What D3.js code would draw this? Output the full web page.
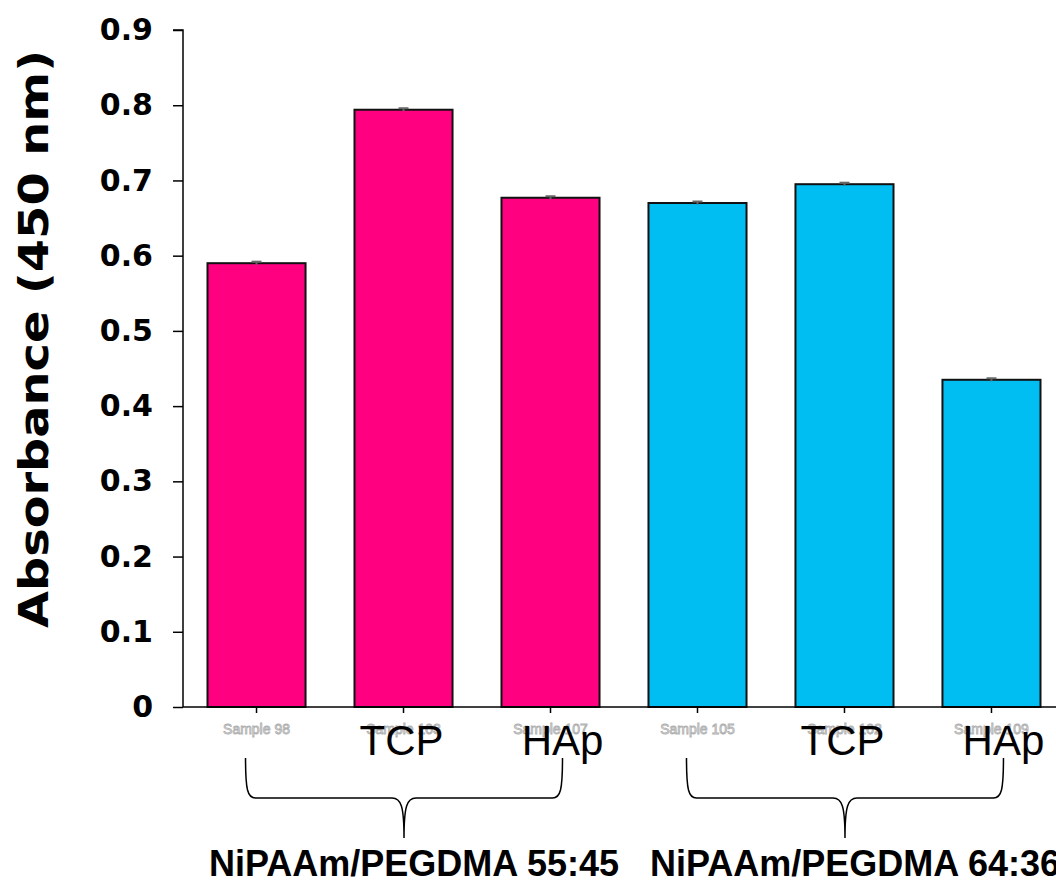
<!DOCTYPE html>
<html>
<head>
<meta charset="utf-8">
<script src="https://cdn.jsdelivr.net/npm/d3@7"></script>
<style>
  body { margin: 0; background: #fff; }
  svg { display: block; }
</style>
</head>
<body>
<div id="chart"></div>
<script>
// datos
const muestras = ["Sample 98", "Sample 103", "Sample 107", "Sample 105", "Sample 102", "Sample 109"];
const sustratos = ["", "TCP", "HAp", "", "TCP", "HAp"];
const absorbancia = [0.590, 0.794, 0.677, 0.670, 0.695, 0.435];
const errores = [0.002, 0.002, 0.002, 0.002, 0.002, 0.002];
const grupos = ["NiPAAm/PEGDMA 55:45", "NiPAAm/PEGDMA 64:36"];
const grupoDeBarra = [0, 0, 0, 1, 1, 1];
const colores = ["#ff0080", "#00bdf2"];
const yTicks = [0, 0.1, 0.2, 0.3, 0.4, 0.5, 0.6, 0.7, 0.8, 0.9];

const W = 1056, H = 884;
const x0 = 183, paso = 147, yCero = 707, yTope = 30;

const svg = d3.select("#chart").append("svg")
    .attr("width", W).attr("height", H);

// escalas
const x = d3.scaleBand()
    .domain(d3.range(muestras.length))
    .range([x0, x0 + paso * muestras.length])
    .paddingInner(0.333)
    .paddingOuter(0.1667);

const y = d3.scaleLinear().domain([0, 0.9]).range([yCero, yTope]);

// barras
svg.append("g").selectAll("rect")
    .data(absorbancia)
    .join("rect")
    .attr("x", (d, i) => x(i))
    .attr("y", d => y(d))
    .attr("width", x.bandwidth())
    .attr("height", d => y(0) - y(d))
    .attr("fill", (d, i) => colores[grupoDeBarra[i]])
    .attr("stroke", "#111")
    .attr("stroke-width", 2);

// barras de error (muy pequeñas)
const eb = svg.append("g").attr("stroke", "#666").attr("stroke-width", 2);
absorbancia.forEach((v, i) => {
  const cx = x(i) + x.bandwidth() / 2;
  eb.append("line").attr("x1", cx).attr("x2", cx).attr("y1", y(v + errores[i])).attr("y2", y(v - errores[i]));
  eb.append("line").attr("x1", cx - 5).attr("x2", cx + 5).attr("y1", y(v + errores[i])).attr("y2", y(v + errores[i]));
});

// eje Y
const yAxis = svg.append("g")
    .attr("transform", `translate(${x0},0)`)
    .call(d3.axisLeft(y).tickValues(yTicks).tickSize(10).tickPadding(20)
      .tickFormat(d => d === 0 ? "0" : d3.format(".1f")(d)));
yAxis.select(".domain").attr("stroke", "#000").attr("stroke-width", 1.5).attr("d", `M-10,${yTope}H0V${yCero}`);
yAxis.selectAll(".tick line").attr("stroke", "#000").attr("stroke-width", 1.5);
yAxis.selectAll(".tick text")
    .attr("fill", "#000")
    .style("font-family", "'DejaVu Sans', sans-serif")
    .style("font-weight", "bold")
    .style("font-size", "30px");

// eje X
const xAxis = svg.append("g")
    .attr("transform", `translate(0,${yCero})`)
    .call(d3.axisBottom(x).tickSize(6).tickFormat(""));
xAxis.select(".domain").attr("stroke", "#000").attr("stroke-width", 1.5).attr("d", `M${x0},0H${W + 20}`);
xAxis.selectAll(".tick line").attr("stroke", "#000").attr("stroke-width", 1.5);

// etiquetas de muestra (blancas con contorno gris)
svg.append("g").selectAll("text")
    .data(muestras)
    .join("text")
    .attr("x", (d, i) => x(i) + x.bandwidth() / 2)
    .attr("y", 734)
    .attr("text-anchor", "middle")
    .attr("fill", "#fff")
    .attr("stroke", "#b0b0b0")
    .attr("stroke-width", 0.9)
    .style("font-family", "'Liberation Sans', Arial, sans-serif")
    .style("font-size", "14px")
    .text(d => d);

// etiquetas TCP / HAp
svg.append("g").selectAll("text")
    .data(sustratos)
    .join("text")
    .attr("x", (d, i) => x(i) + x.bandwidth() / 2 + (d === "HAp" ? 12 : -2))
    .attr("y", 755)
    .attr("text-anchor", "middle")
    .attr("fill", "#000")
    .style("font-family", "'Liberation Sans', Arial, sans-serif")
    .style("font-size", "42px")
    .text(d => d);

// llaves de agrupacion
const llaves = svg.append("g").attr("fill", "none").attr("stroke", "#000").attr("stroke-width", 1.5);
grupos.forEach((g, k) => {
  const idx = d3.range(muestras.length).filter(i => grupoDeBarra[i] === k);
  const a = x(idx[0]) + x.bandwidth() / 2 - 11;
  const b = x(idx[idx.length - 1]) + x.bandwidth() / 2 + 12;
  const m = (a + b) / 2;
  const top = 758, med = 798, bot = 838;
  llaves.append("path").attr("d",
    `M${a},${top} C${a},${med - 8} ${a + 2},${med} ${a + 10},${med} L${m - 12},${med} ` +
    `C${m - 3},${med} ${m},${med + 8} ${m},${bot} ` +
    `C${m},${med + 8} ${m + 3},${med} ${m + 12},${med} L${b - 10},${med} ` +
    `C${b - 2},${med} ${b},${med - 8} ${b},${top}`);
  svg.append("text")
    .attr("x", m - 195)
    .attr("y", 876)
    .attr("fill", "#000")
    .style("font-family", "'Liberation Sans', Arial, sans-serif")
    .style("font-weight", "bold")
    .style("font-size", "36px")
    .text(g);
});

// titulo del eje Y
svg.append("text")
    .attr("transform", "translate(48,339) rotate(-90)")
    .attr("text-anchor", "middle")
    .attr("fill", "#000")
    .attr("textLength", 578)
    .attr("lengthAdjust", "spacingAndGlyphs")
    .style("font-family", "'DejaVu Sans', sans-serif")
    .style("font-weight", "bold")
    .style("font-size", "40px")
    .text("Absorbance (450 nm)");
</script>
</body>
</html>
